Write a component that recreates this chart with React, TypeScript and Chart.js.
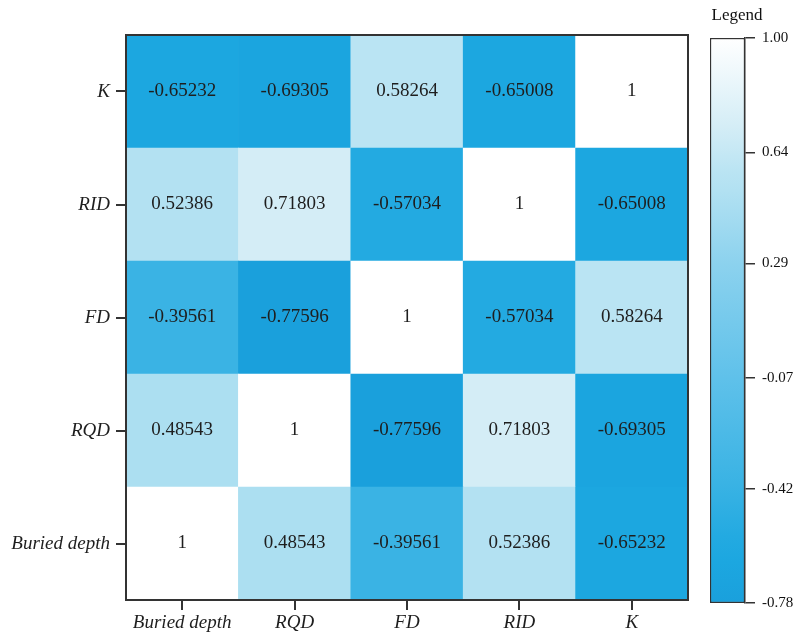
import React, { useEffect, useRef } from "react";
import { Chart, registerables } from "chart.js";

Chart.register(...registerables);

const xLabels = ["Buried depth", "RQD", "FD", "RID", "K"];
const yLabels = ["Buried depth", "RQD", "FD", "RID", "K"]; // bottom to top

const rowBuriedDepth = [1, 0.48543, -0.39561, 0.52386, -0.65232];
const rowRQD = [0.48543, 1, -0.77596, 0.71803, -0.69305];
const rowFD = [-0.39561, -0.77596, 1, -0.57034, 0.58264];
const rowRID = [0.52386, 0.71803, -0.57034, 1, -0.65008];
const rowK = [-0.65232, -0.69305, 0.58264, -0.65008, 1];
const rows = [rowBuriedDepth, rowRQD, rowFD, rowRID, rowK];

const colorbarTicks = [1.0, 0.64, 0.29, -0.07, -0.42, -0.78];
const colorbarMin = -0.78;
const colorbarMax = 1.0;

const stopValues = [1.0, 0.72, 0.58, 0.52, 0.29, -0.07, -0.4, -0.57, -0.65, -0.78];
const stopColors: number[][] = [
  [255, 255, 255],
  [212, 237, 246],
  [186, 228, 243],
  [178, 225, 242],
  [140, 210, 238],
  [95, 193, 234],
  [58, 179, 228],
  [35, 170, 225],
  [28, 167, 224],
  [26, 160, 220],
];

function colorFor(v: number): string {
  if (v >= stopValues[0]) return `rgb(${stopColors[0].join(",")})`;
  for (let i = 0; i < stopValues.length - 1; i++) {
    const a = stopValues[i];
    const b = stopValues[i + 1];
    if (v <= a && v >= b) {
      const t = (a - v) / (a - b);
      const c = stopColors[i].map((ch, k) => Math.round(ch + (stopColors[i + 1][k] - ch) * t));
      return `rgb(${c.join(",")})`;
    }
  }
  return `rgb(${stopColors[stopColors.length - 1].join(",")})`;
}

const FONT = '"Liberation Serif", "Times New Roman", serif';

export default function App() {
  const heatRef = useRef<HTMLCanvasElement>(null);
  const barRef = useRef<HTMLCanvasElement>(null);

  useEffect(() => {
    if (!heatRef.current || !barRef.current) return;

    const heatPlugin = {
      id: "heatText",
      afterDraw(chart: any) {
        const { ctx, chartArea } = chart;
        const xs = chart.scales.x;
        const ys = chart.scales.y;
        ctx.save();
        ctx.font = `19px ${FONT}`;
        ctx.fillStyle = "#1e1e1e";
        ctx.textAlign = "center";
        ctx.textBaseline = "middle";
        rows.forEach((row, r) => {
          row.forEach((v, c) => {
            ctx.fillText(String(v), xs.getPixelForValue(c), ys.getPixelForValue(r + 0.5));
          });
        });
        ctx.strokeStyle = "#333";
        ctx.lineWidth = 2;
        ctx.strokeRect(
          chartArea.left,
          chartArea.top,
          chartArea.right - chartArea.left,
          chartArea.bottom - chartArea.top
        );
        ctx.restore();
      },
    };

    const heat = new Chart(heatRef.current, {
      type: "bar",
      data: {
        labels: xLabels,
        datasets: rows.map((row, r) => ({
          label: yLabels[r],
          data: row.map(() => [r, r + 1]),
          backgroundColor: row.map((v) => colorFor(v)),
          borderWidth: 0,
          barPercentage: 1,
          categoryPercentage: 1,
          grouped: false,
        })) as any,
      },
      options: {
        animation: false,
        responsive: false,
        layout: { padding: { top: 35, right: 12, left: 0, bottom: 0 } },
        plugins: { legend: { display: false }, tooltip: { enabled: false } },
        scales: {
          x: {
            type: "category",
            offset: true,
            grid: {
              offset: false,
              drawOnChartArea: false,
              drawTicks: true,
              tickLength: 10,
              color: "#333",
              lineWidth: 2,
            },
            border: { display: true, color: "#333", width: 2 },
            ticks: {
              font: { family: FONT, size: 19, style: "italic" },
              color: "#1e1e1e",
              padding: 2,
              maxRotation: 0,
              autoSkip: false,
            },
            afterFit: (s: any) => {
              s.height = 37;
            },
          },
          y: {
            type: "linear",
            min: 0,
            max: 5,
            afterBuildTicks: (s: any) => {
              s.ticks = yLabels.map((_, i) => ({ value: i + 0.5 }));
            },
            grid: {
              drawOnChartArea: false,
              drawTicks: true,
              tickLength: 10,
              color: "#333",
              lineWidth: 2,
            },
            border: { display: true, color: "#333", width: 2 },
            ticks: {
              font: { family: FONT, size: 19, style: "italic" },
              color: "#1e1e1e",
              padding: 6,
              callback: (v: any) => yLabels[Math.floor(Number(v))],
            },
            afterFit: (s: any) => {
              s.width = 126;
            },
          },
        },
      } as any,
      plugins: [heatPlugin],
    });

    const legendTitle = {
      id: "legendTitle",
      afterDraw(chart: any) {
        const { ctx } = chart;
        ctx.save();
        ctx.font = `17px ${FONT}`;
        ctx.fillStyle = "#111";
        ctx.textAlign = "center";
        ctx.textBaseline = "middle";
        ctx.fillText("Legend", 37, 16);
        ctx.restore();
      },
    };

    const bar = new Chart(barRef.current, {
      type: "bar",
      data: {
        labels: [""],
        datasets: [
          {
            data: [[colorbarMin, colorbarMax]],
            backgroundColor: (context: any) => {
              const chart = context.chart;
              const { ctx, chartArea } = chart;
              if (!chartArea) return "#ffffff";
              const ys = chart.scales.y;
              const top = ys.getPixelForValue(colorbarMax);
              const bottom = ys.getPixelForValue(colorbarMin);
              const g = ctx.createLinearGradient(0, top, 0, bottom);
              stopValues.forEach((v, i) => {
                const p = (ys.getPixelForValue(v) - top) / (bottom - top);
                g.addColorStop(Math.min(1, Math.max(0, p)), `rgb(${stopColors[i].join(",")})`);
              });
              return g;
            },
            borderColor: "#333",
            borderWidth: 1.5,
            borderSkipped: false,
            barPercentage: 1,
            categoryPercentage: 1,
          },
        ] as any,
      },
      options: {
        animation: false,
        responsive: false,
        layout: { padding: { top: 38, left: 10, bottom: 34, right: 0 } },
        plugins: { legend: { display: false }, tooltip: { enabled: false } },
        scales: {
          x: { display: false },
          y: {
            type: "linear",
            position: "right",
            min: colorbarMin,
            max: colorbarMax,
            afterBuildTicks: (s: any) => {
              s.ticks = colorbarTicks.map((v) => ({ value: v }));
            },
            grid: {
              drawOnChartArea: false,
              drawTicks: true,
              tickLength: 10,
              color: "#333",
              lineWidth: 1.5,
            },
            border: { display: true, color: "#333", width: 1.5 },
            ticks: {
              font: { family: FONT, size: 15 },
              color: "#111",
              padding: 7,
              callback: (v: any) => Number(v).toFixed(2),
            },
            afterFit: (s: any) => {
              s.width = 51;
            },
          },
        },
      } as any,
      plugins: [legendTitle],
    });

    return () => {
      heat.destroy();
      bar.destroy();
    };
  }, []);

  return (
    <div
      style={{
        position: "fixed",
        left: 0,
        top: 0,
        width: 796,
        height: 637,
        background: "#fff",
        overflow: "hidden",
      }}
    >
      <canvas
        ref={heatRef}
        width={700}
        height={637}
        style={{ position: "absolute", left: 0, top: 0, width: 700, height: 637, display: "block" }}
      />
      <canvas
        ref={barRef}
        width={96}
        height={637}
        style={{ position: "absolute", left: 700, top: 0, width: 96, height: 637, display: "block" }}
      />
    </div>
  );
}
